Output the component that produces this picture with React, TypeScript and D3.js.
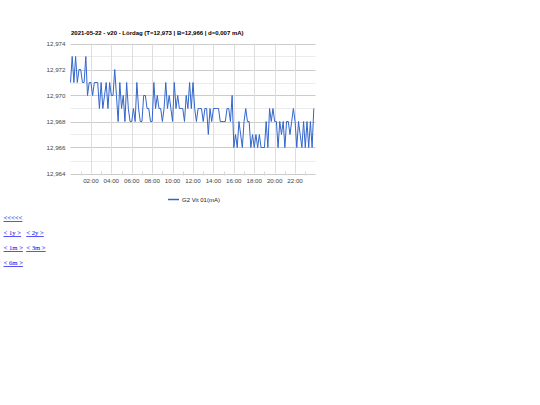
import React from "react";
import * as d3 from "d3";

const title = "2021-05-22 - v20 - Lördag (T=12,973 | B=12,966 | d=0,007 mA)";
const seriesName = "G2 Vit 01(mA)";
const xTickHours = [2, 4, 6, 8, 10, 12, 14, 16, 18, 20, 22];
const yTickValues = [12.964, 12.966, 12.968, 12.97, 12.972, 12.974];
const links = [["<<<<<"], ["< 1y >", "< 2y >"], ["< 1m >", "< 3m >"], ["< 6m >"]];

// readings every 10 minutes, starting 00:00
const values = [
  12.971, 12.973, 12.971, 12.973, 12.971, 12.972, 12.972, 12.971, 12.971, 12.973, 12.970, 12.971,
  12.971, 12.970, 12.971, 12.971, 12.971, 12.969, 12.971, 12.969, 12.970, 12.971, 12.969, 12.971,
  12.970, 12.970, 12.972, 12.970, 12.968, 12.971, 12.969, 12.970, 12.968, 12.971, 12.969, 12.968,
  12.968, 12.969, 12.968, 12.971, 12.969, 12.968, 12.968, 12.970, 12.970, 12.969, 12.969, 12.968,
  12.968, 12.971, 12.969, 12.970, 12.969, 12.969, 12.968, 12.969, 12.971, 12.969, 12.970, 12.969,
  12.968, 12.971, 12.969, 12.970, 12.969, 12.969, 12.969, 12.968, 12.970, 12.969, 12.971, 12.969,
  12.971, 12.969, 12.968, 12.969, 12.969, 12.969, 12.968, 12.969, 12.969, 12.967, 12.969, 12.968,
  12.969, 12.969, 12.969, 12.969, 12.968, 12.968, 12.968, 12.968, 12.969, 12.969, 12.968, 12.970,
  12.966, 12.967, 12.966, 12.968, 12.967, 12.966, 12.968, 12.969, 12.968, 12.968, 12.966, 12.967,
  12.966, 12.967, 12.966, 12.967, 12.966, 12.966, 12.966, 12.968, 12.966, 12.969, 12.968, 12.969,
  12.968, 12.968, 12.966, 12.968, 12.967, 12.968, 12.966, 12.968, 12.968, 12.967, 12.968, 12.969,
  12.968, 12.966, 12.968, 12.967, 12.966, 12.968, 12.966, 12.968, 12.966, 12.968, 12.966, 12.969,
];
const stepMinutes = 10;

export default function App() {
  const left = 70.5, right = 315.5, top = 43.5, bottom = 173.5;
  const x = d3.scaleLinear().domain([0, 24]).range([left, right]);
  const y = d3.scaleLinear().domain([12.964, 12.974]).range([bottom, top]);
  const pts: [number, number][] = values.map((v, i) => [(i * stepMinutes) / 60, v]);
  const line = d3.line<[number, number]>().x((d) => x(d[0])).y((d) => y(d[1]));
  const gridVals = d3.range(0, 11).map((i) => 12.964 + i * 0.001);
  const minorHours = d3.range(1, 24, 2);
  const font = "Arial, 'Liberation Sans', sans-serif";
  const fmt = (v: number) => v.toFixed(3).replace(".", ",");
  const hh = (h: number) => String(h).padStart(2, "0") + ":00";

  return (
    <div style={{ position: "absolute", left: 0, top: 0 }}>
      <svg width={540} height={405} style={{ display: "block" }}>
        <rect width={540} height={405} fill="#fff" />
        <text x={71} y={34.5} fontFamily={font} fontSize={6.0} fontWeight="bold" fill="#000">
          {title}
        </text>
        {gridVals.map((v, i) => (
          <line key={"h" + i} x1={left} x2={right} y1={Math.round(y(v)) + 0.5} y2={Math.round(y(v)) + 0.5}
            stroke={i % 2 === 0 ? "#cccccc" : "#ebebeb"} strokeWidth={1} />
        ))}
        {xTickHours.map((h) => (
          <line key={"v" + h} x1={Math.round(x(h)) + 0.5} x2={Math.round(x(h)) + 0.5} y1={top} y2={bottom}
            stroke="#dddddd" strokeWidth={1} />
        ))}
        {minorHours.map((h) => (
          <line key={"m" + h} x1={Math.round(x(h)) + 0.5} x2={Math.round(x(h)) + 0.5} y1={bottom - 2} y2={bottom + 2}
            stroke="#d8d8d8" strokeWidth={1} />
        ))}
        {yTickValues.map((v) => (
          <text key={"yl" + v} x={65.5} y={y(v) + 2.2} textAnchor="end" fontFamily={font} fontSize={6.2} fill="#444">
            {fmt(v)}
          </text>
        ))}
        {xTickHours.map((h) => (
          <text key={"xl" + h} x={x(h)} y={183} textAnchor="middle" fontFamily={font} fontSize={6.2} fill="#444">
            {hh(h)}
          </text>
        ))}
        <path d={line(pts) || ""} fill="none" stroke="#3366cc" strokeWidth={1} strokeLinejoin="round" />
        <line x1={168} x2={179} y1={199.5} y2={199.5} stroke="#3366cc" strokeWidth={1.5} />
        <text x={182} y={201.5} fontFamily={font} fontSize={6.0} fill="#222">{seriesName}</text>
        {links.map((row, r) => {
          let cx = 3.5;
          return (
            <g key={"l" + r}>
              {row.map((t, k) => {
                const xx = cx;
                cx += 22.7;
                return (
                  <text key={k} x={xx} y={220.3 + r * 15} fontFamily="'Liberation Serif', 'Times New Roman', serif"
                    fontSize={6.7} fill="#0000ee" textDecoration="underline">
                    {t}
                  </text>
                );
              })}
            </g>
          );
        })}
      </svg>
    </div>
  );
}
